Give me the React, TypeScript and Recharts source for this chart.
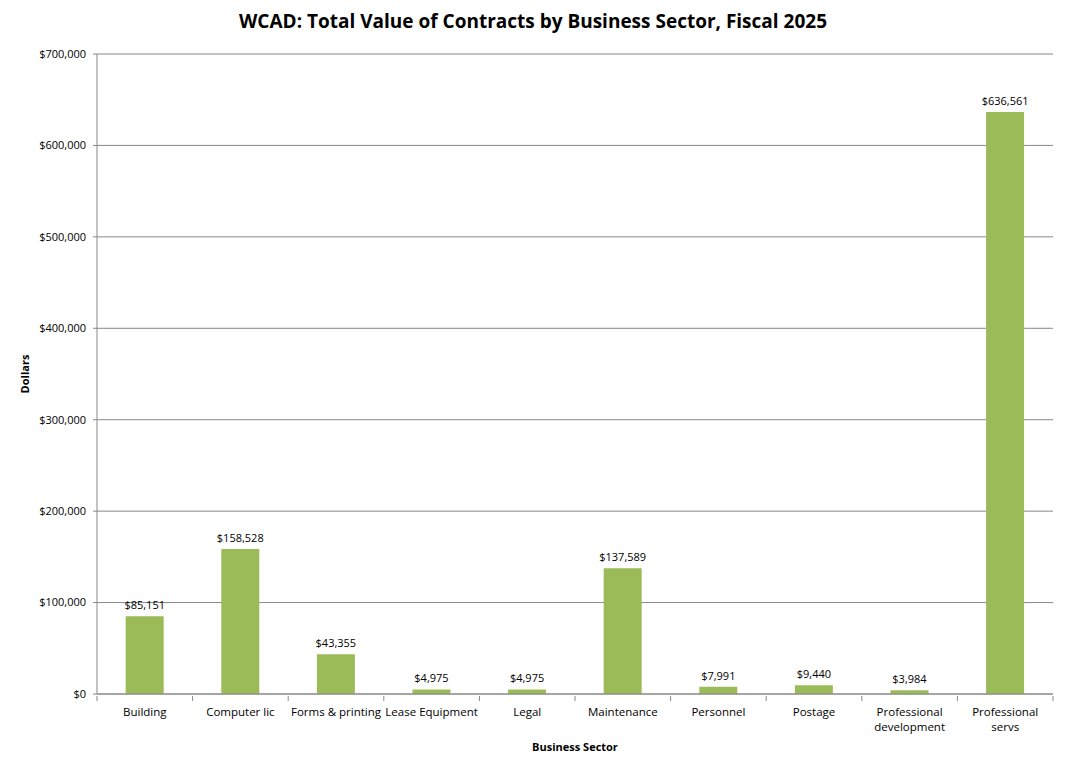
import { Bar, BarChart, CartesianGrid, LabelList, XAxis, YAxis } from "recharts";

const sectors = [
  "Building",
  "Computer lic",
  "Forms & printing",
  "Lease Equipment",
  "Legal",
  "Maintenance",
  "Personnel",
  "Postage",
  "Professional development",
  "Professional servs",
];
const contractTotals = [85151, 158528, 43355, 4975, 4975, 137589, 7991, 9440, 3984, 636561];
const dollarTicks = [0, 100000, 200000, 300000, 400000, 500000, 600000, 700000];

const data = sectors.map((sector, i) => ({ sector, total: contractTotals[i] }));

const FONT = "'Open Sans', 'Liberation Sans', sans-serif";
const money = (v: number) => "$" + v.toLocaleString("en-US");

// long sector names go onto two lines, split at the first space;
// tick marks sit on the category boundaries rather than the centres
function SectorTick({ x, y, payload, index, visibleTicksCount }: any) {
  const text: string = payload.value;
  const half: number = payload.offset ?? 47.8;
  const lines =
    text.length > 16 && text.includes(" ")
      ? [text.slice(0, text.indexOf(" ")), text.slice(text.indexOf(" ") + 1)]
      : [text];
  const last = index === visibleTicksCount - 1;
  return (
    <g>
      <line x1={x - half} x2={x - half} y1={y} y2={y + 5} stroke="#888" />
      {last && <line x1={x + half} x2={x + half} y1={y} y2={y + 5} stroke="#888" />}
      <text x={x} y={y + 5} textAnchor="middle" fontSize={11.5} fontFamily={FONT} fill="#000">
        {lines.map((line, i) => (
          <tspan key={line} x={x} dy={15}>
            {line}
          </tspan>
        ))}
      </text>
    </g>
  );
}

export default function App() {
  return (
    <div style={{ position: "absolute", left: 0, top: 0, width: 1066, height: 772, background: "#fff" }}>
      <div
        style={{
          position: "absolute",
          top: 8,
          width: 1066,
          textAlign: "center",
          fontFamily: FONT,
          fontWeight: 700,
          fontSize: 19,
        }}
      >
        WCAD: Total Value of Contracts by Business Sector, Fiscal 2025
      </div>
      <BarChart
        width={1066}
        height={772}
        data={data}
        margin={{ top: 54, right: 13, bottom: 12, left: 20 }}
        barCategoryGap="30%"
      >
        <CartesianGrid vertical={false} stroke="#888" />
        <XAxis
          dataKey="sector"
          interval={0}
          stroke="#888"
          tickSize={0}
          tickLine={false}
          tick={<SectorTick />}
          height={66}
          label={{
            value: "Business Sector",
            position: "insideBottom",
            offset: 9,
            fontFamily: FONT,
            fontWeight: 700,
            fontSize: 11,
            fill: "#000",
          }}
        />
        <YAxis
          domain={[0, 700000]}
          ticks={dollarTicks}
          tickFormatter={money}
          width={77}
          stroke="#888"
          tickSize={4}
          tickMargin={7}
          tick={{ fontFamily: FONT, fontSize: 11, fill: "#000" }}
          label={{
            value: "Dollars",
            angle: -90,
            position: "insideLeft",
            offset: 5,
            style: { textAnchor: "middle" },
            fontFamily: FONT,
            fontWeight: 700,
            fontSize: 11,
            fill: "#000",
          }}
        />
        <Bar dataKey="total" fill="#9BBB59" isAnimationActive={false}>
          <LabelList
            dataKey="total"
            position="top"
            offset={7}
            formatter={(v: any) => money(Number(v))}
            fontFamily={FONT}
            fontSize={11}
            fill="#000"
          />
        </Bar>
      </BarChart>
    </div>
  );
}
